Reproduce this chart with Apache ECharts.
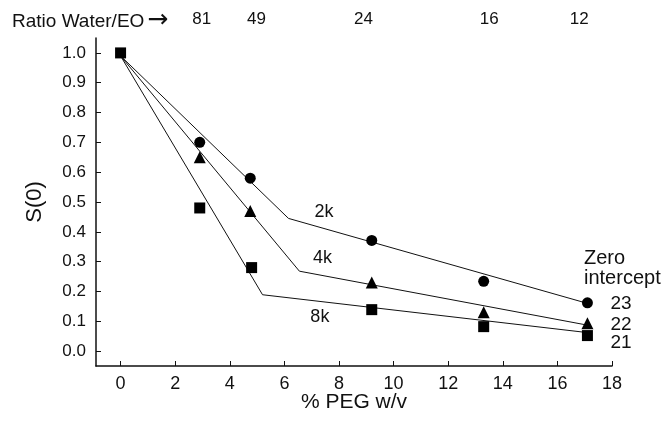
<!DOCTYPE html>
<html><head><meta charset="utf-8">
<script src="https://cdn.jsdelivr.net/npm/echarts@6/dist/echarts.min.js"></script>
<style>html,body{margin:0;padding:0;background:#fff}#c{width:670px;height:421px}</style>
</head><body><div id="c"></div>
<script>
// measured points
const circles2k = [[2.9,0.70],[4.75,0.58],[9.2,0.371],[13.3,0.234],[17.1,0.162]];
const triangles4k = [[2.9,0.65],[4.75,0.47],[9.2,0.23],[13.3,0.13],[17.1,0.093]];
const squares8k = [[0,1.0],[2.9,0.48],[4.8,0.28],[9.2,0.139],[13.3,0.082],[17.1,0.052]];
// fitted line vertices
const fit2k = [[0,0.99],[6.15,0.445],[17.1,0.16]];
const fit4k = [[0,0.99],[6.55,0.268],[17.1,0.087]];
const fit8k = [[0,0.99],[5.2,0.189],[17.1,0.062]];
const fitNames = ['2k','4k','8k'];
const fitLabelAt = [[7.45,0.465],[7.4,0.313],[7.3,0.113]];
const intercepts = ['23','22','21'];
// top axis: water/EO ratio
const ratioPos = [2.97,4.98,8.9,13.5,16.8];
const ratioLabels = ['81','49','24','16','12'];
const xTicks = [0,2,4,6,8,10,12,14,16,18];
const yTicks = [0,0.1,0.2,0.3,0.4,0.5,0.6,0.7,0.8,0.9,1.0];

const font = 'Liberation Sans, Arial, sans-serif';
const chart = echarts.init(document.getElementById('c'), null, {renderer:'canvas'});
const lineBase = {type:'line', symbol:'none', silent:true, lineStyle:{color:'#111', width:1}, z:2};
const fits = [fit2k, fit4k, fit8k];
const endDy = [0,0,10];
chart.setOption({
  animation:false,
  backgroundColor:'#fff',
  title:{text:'Ratio Water/EO{a|\u2192}', left:12, top:8, padding:0,
    textStyle:{fontFamily:font, fontSize:19, fontWeight:'normal', color:'#111',
      rich:{a:{fontFamily:'DejaVu Sans', fontSize:25, color:'#111', padding:[0,0,2,3]}}}},
  grid:{left:96, right:58, top:38, bottom:55, outerBoundsMode:'none', containLabel:false},
  xAxis:[{
    type:'value', min:-0.9, max:18,
    name:'% PEG w/v', nameLocation:'middle', nameGap:26, nameMoveOverlap:false,
    nameTextStyle:{fontFamily:font, fontSize:21, color:'#111'},
    axisLine:{onZero:false, lineStyle:{color:'#111', width:1.5}},
    axisTick:{inside:true, length:5, lineStyle:{color:'#111', width:1}, customValues:xTicks},
    axisLabel:{fontFamily:font, fontSize:18, color:'#111', margin:9, customValues:xTicks},
    splitLine:{show:false}
  },{
    type:'value', position:'top', min:-0.9, max:18,
    axisLine:{show:false}, axisTick:{show:false}, splitLine:{show:false},
    axisLabel:{fontFamily:font, fontSize:17, color:'#111', margin:10, customValues:ratioPos,
      formatter:function(v){ let b=0; for(let i=0;i<ratioPos.length;i++){ if(Math.abs(ratioPos[i]-v)<Math.abs(ratioPos[b]-v)) b=i;} return ratioLabels[b]; }}
  }],
  yAxis:{
    type:'value', min:-0.05, max:1.05,
    name:'S(0)', nameLocation:'middle', nameGap:50, nameRotate:90,
    nameTextStyle:{fontFamily:font, fontSize:22, color:'#111'},
    axisLine:{show:true, onZero:false, lineStyle:{color:'#111', width:1.5}},
    axisTick:{show:true, inside:true, length:5, lineStyle:{color:'#111', width:1}, customValues:yTicks},
    axisLabel:{fontFamily:font, fontSize:17, color:'#111', margin:10, customValues:yTicks, formatter:function(v){return v.toFixed(1);}},
    splitLine:{show:false}
  },
  graphic:[{type:'text', left:584, top:248, style:{text:'Zero\nintercept', fontFamily:font, fontSize:20, fill:'#111', align:'center', lineHeight:20, x:42}}],
  series:[
    ...fits.map((d,i)=>Object.assign({}, lineBase, {name:fitNames[i]+' fit', data:d,
      endLabel:{show:true, formatter:intercepts[i], fontFamily:font, fontSize:19, color:'#111', distance:23, offset:[0,endDy[i]]}})),
    {type:'scatter', name:'2k', data:circles2k, symbol:'circle', symbolSize:11, itemStyle:{color:'#000', opacity:1}, z:3},
    {type:'scatter', name:'4k', data:triangles4k, symbol:'triangle', symbolSize:12, itemStyle:{color:'#000', opacity:1}, z:3},
    {type:'scatter', name:'8k', data:squares8k, symbol:'rect', symbolSize:11, itemStyle:{color:'#000', opacity:1}, z:3},
    {type:'scatter', symbolSize:0, silent:true, itemStyle:{opacity:1}, data:fitLabelAt.map((p,i)=>({value:p, name:fitNames[i]})),
      label:{show:true, position:'inside', formatter:'{b}', fontFamily:font, fontSize:18, color:'#111'}}
  ]
});
</script></body></html>
